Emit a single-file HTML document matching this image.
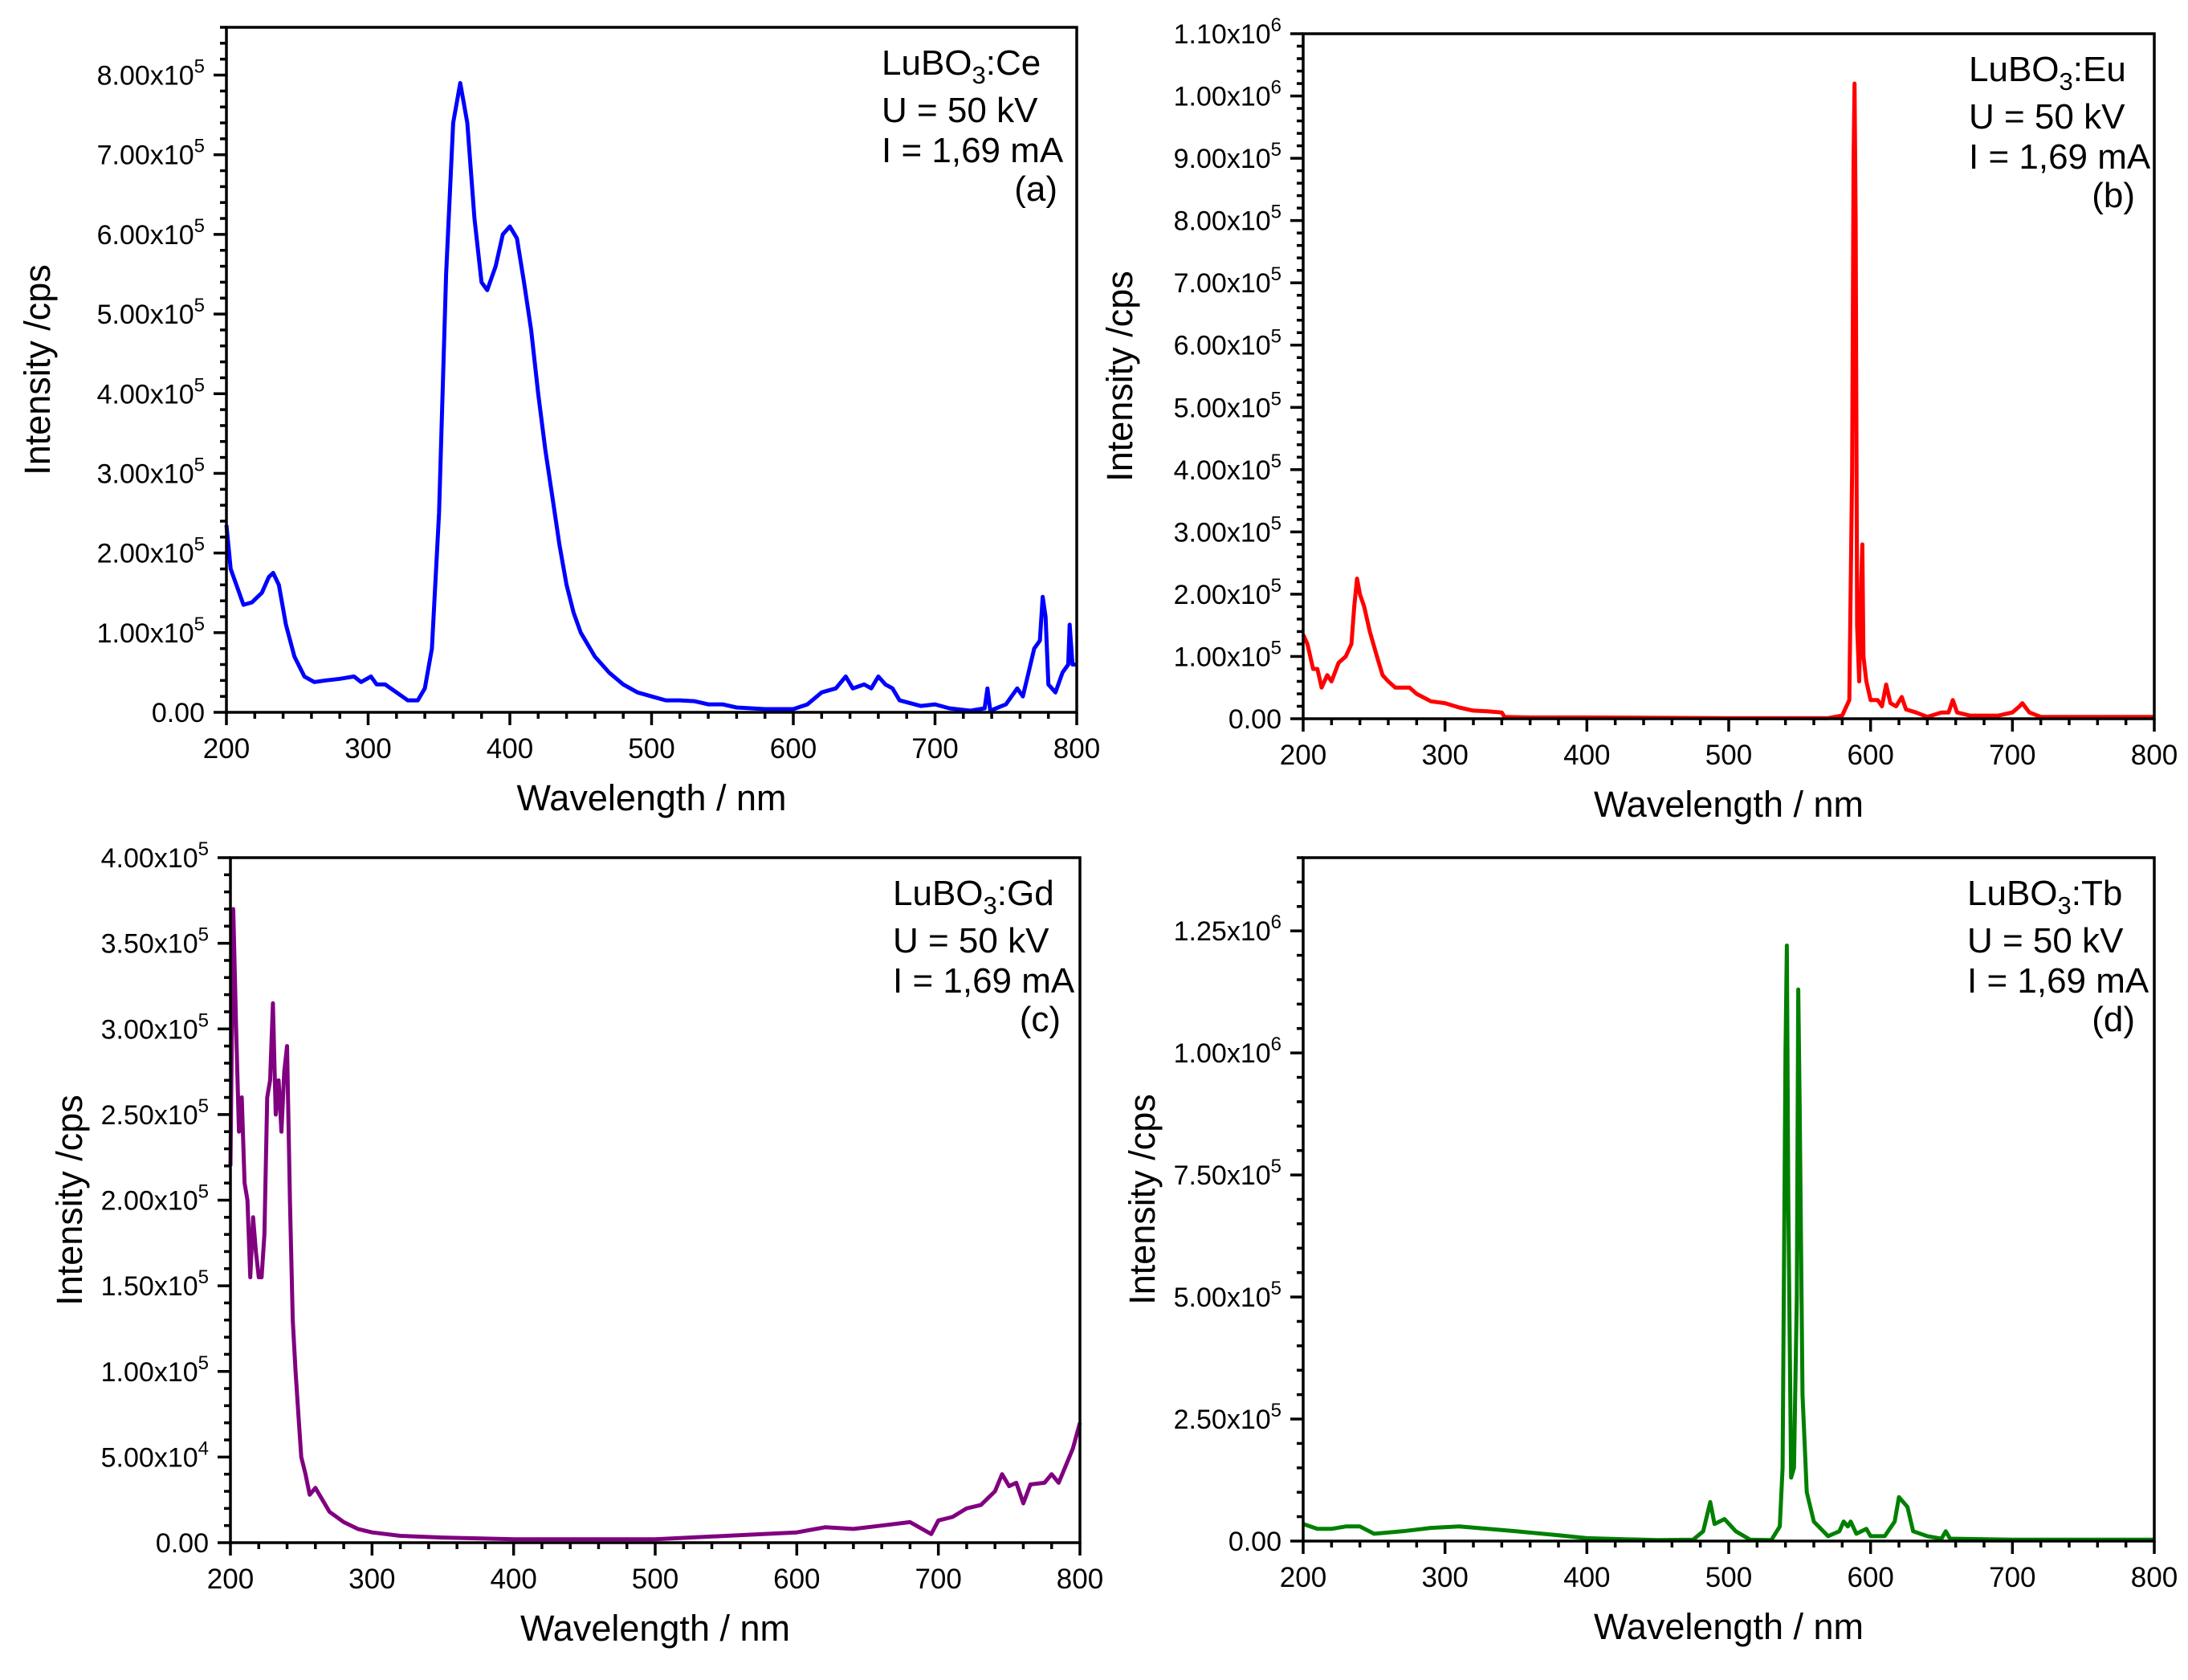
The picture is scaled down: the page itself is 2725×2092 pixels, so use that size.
<!DOCTYPE html>
<html><head><meta charset="utf-8"><style>
html,body{margin:0;padding:0;background:#fff;}
svg{display:block;font-family:"Liberation Sans",Arial,sans-serif;}
</style></head><body>
<svg id="fig" width="2725" height="2092" viewBox="0 0 2725 2092" xmlns="http://www.w3.org/2000/svg"></svg>
<script>
// ---------- data (intensity in units noted) ----------
const ceWl = [200,203,207,212,218,225,230,233,237,242,248,255,262,270,280,290,295,302,306,312,320,328,335,340,345,350,355,360,365,370,375,380,384,390,395,400,405,410,415,420,425,430,435,440,445,450,460,470,480,490,500,510,520,530,540,550,560,580,600,610,620,630,637,642,650,655,660,665,670,675,690,700,710,725,735,737,739,750,758,762,766,770,774,776,778,780,785,790,794,795,797,800];
const ceVal = [2.35,1.8,1.6,1.35,1.38,1.5,1.7,1.75,1.6,1.1,0.7,0.45,0.38,0.4,0.42,0.45,0.38,0.45,0.35,0.35,0.25,0.15,0.15,0.3,0.8,2.5,5.5,7.4,7.9,7.4,6.2,5.4,5.3,5.6,6.0,6.1,5.95,5.4,4.8,4.0,3.3,2.7,2.1,1.6,1.25,1.0,0.7,0.5,0.35,0.25,0.2,0.15,0.15,0.14,0.1,0.1,0.06,0.04,0.04,0.1,0.25,0.3,0.45,0.3,0.35,0.3,0.45,0.35,0.3,0.15,0.08,0.1,0.05,0.02,0.05,0.3,0.02,0.1,0.3,0.2,0.5,0.8,0.9,1.45,1.2,0.35,0.25,0.5,0.6,1.1,0.6,0.6]; // x1e5

const euWl = [200,203,207,210,213,217,220,225,230,234,236,238,240,243,247,252,256,260,265,270,275,280,290,300,310,320,330,340,342,360,400,500,570,580,585,587,588,588.7,589.5,590.5,592,593.5,594.2,595,597,600,605,608,611,614,618,622,625,632,640,650,655,658,661,670,690,700,705,707,712,720,800];
const euVal = [1.35,1.2,0.8,0.8,0.5,0.7,0.6,0.9,1.0,1.2,1.8,2.25,2.0,1.8,1.4,1.0,0.7,0.6,0.5,0.5,0.5,0.4,0.28,0.25,0.18,0.13,0.12,0.1,0.03,0.02,0.02,0.01,0.01,0.05,0.3,4.0,9.0,10.2,8.0,1.5,0.6,2.3,2.8,1.0,0.6,0.3,0.3,0.2,0.55,0.25,0.2,0.35,0.15,0.1,0.03,0.1,0.1,0.3,0.1,0.05,0.05,0.1,0.2,0.25,0.1,0.03,0.03]; // x1e5

const gdWl = [200,202,204,206,208,210,212,214,216,218,220,222,224,226,228,230,232,234,236,238,240,242,244,246,248,250,253,256,260,265,270,275,280,290,300,320,350,400,450,500,550,600,620,640,660,680,695,700,710,720,730,740,745,750,755,760,765,775,780,785,790,795,800];
const gdVal = [22,37,30,24,26,21,20,15.5,19,17,15.5,15.5,18,26,27,31.5,25,27,24,27.5,29,20,13,10,7.5,5,4,2.8,3.2,2.5,1.8,1.5,1.2,0.8,0.6,0.4,0.3,0.2,0.2,0.2,0.4,0.6,0.9,0.8,1.0,1.2,0.5,1.3,1.5,2,2.2,3,4,3.3,3.5,2.3,3.4,3.5,4,3.5,4.5,5.5,7]; // x1e4

const tbWl = [200,210,220,230,240,250,270,290,310,330,350,380,400,450,475,482,487,490,497,505,515,530,536,538,540,541,542,544,546,548,549,550,552,555,560,570,578,581,584,586,590,597,600,610,617,620,623,626,630,640,650,653,656,700,800];
const tbVal = [0.35,0.25,0.25,0.3,0.3,0.15,0.2,0.27,0.3,0.25,0.2,0.12,0.06,0.02,0.03,0.2,0.8,0.35,0.45,0.2,0.03,0.02,0.3,1.5,10,12.2,7,1.3,1.5,5,11.3,9,3,1.0,0.4,0.1,0.2,0.4,0.3,0.4,0.15,0.25,0.1,0.1,0.4,0.9,0.8,0.7,0.2,0.1,0.05,0.2,0.05,0.03,0.03]; // x1e5

const xTicks = [200,300,400,500,600,700,800];
const ceTicks = [0,1,2,3,4,5,6,7,8];
const ceTickLabels = ["0.00","1.00x10|5","2.00x10|5","3.00x10|5","4.00x10|5","5.00x10|5","6.00x10|5","7.00x10|5","8.00x10|5"];
const euTicks = [0,1,2,3,4,5,6,7,8,9,10,11];
const euTickLabels = ["0.00","1.00x10|5","2.00x10|5","3.00x10|5","4.00x10|5","5.00x10|5","6.00x10|5","7.00x10|5","8.00x10|5","9.00x10|5","1.00x10|6","1.10x10|6"];
const gdTicks = [0,5,10,15,20,25,30,35,40];
const gdTickLabels = ["0.00","5.00x10|4","1.00x10|5","1.50x10|5","2.00x10|5","2.50x10|5","3.00x10|5","3.50x10|5","4.00x10|5"];
const tbTicks = [0,2.5,5,7.5,10,12.5];
const tbTickLabels = ["0.00","2.50x10|5","5.00x10|5","7.50x10|5","1.00x10|6","1.25x10|6"];

const NS = "http://www.w3.org/2000/svg";
const svg = document.getElementById('fig');
function mk(tag, attrs, parent){
  const e = document.createElementNS(NS, tag);
  for (const k in attrs) e.setAttribute(k, attrs[k]);
  (parent||svg).appendChild(e);
  return e;
}

function panel(cfg){
  const g = mk('g', {});
  
  
  const {L,R,T,B,ymax,minorY} = cfg;
  const sx = v => L + (v-200)/600*(R-L);
  const sy = v => B - v/ymax*(B-T);
  let d = '';
  cfg.wl.forEach((w,i)=>{ d += (i?'L':'M') + sx(w).toFixed(1) + ' ' + sy(cfg.val[i]).toFixed(1); });
  const line = mk('path', {d:d, fill:'none', stroke:cfg.color, 'stroke-width':5, 'stroke-linejoin':'round'}, g);
  
  
  const fr = mk('rect', {x:L, y:T, width:R-L, height:B-T, fill:'none', stroke:'#000', 'stroke-width':3.5}, g);
  
  
  for (let v=200; v<=800; v+=20){
    const major = (v%100===0);
    mk('line', {x1:sx(v), x2:sx(v), y1:B, y2:B+(major?16:8), stroke:'#000','stroke-width':3.5}, g);
  }
  xTicks.forEach(v=>{
    const t = mk('text', {x:sx(v), y:B+57, 'font-size':35, 'text-anchor':'middle', fill:'#000'}, g);
    t.textContent = v;
    
    
  });
  const step = cfg.ticks[1]-cfg.ticks[0];
  for (let v=0; v<=ymax+1e-9; v+=step/minorY){
    const isMaj = Math.abs(v/step - Math.round(v/step))<1e-6;
    mk('line', {x1:L, x2:L-(isMaj?16:8), y1:sy(v), y2:sy(v), stroke:'#000','stroke-width':3.5}, g);
  }
  cfg.ticks.forEach((v,i)=>{
    const parts = cfg.labels[i].split('|');
    const t = mk('text', {x:L-27, y:sy(v)+12, 'font-size':34, 'text-anchor':'end', fill:'#000'}, g);
    
    
    if (parts.length===1){ t.textContent = parts[0]; }
    else {
      const a = mk('tspan', {}, t); a.textContent = parts[0];
      const b = mk('tspan', {dy:-15, 'font-size':24}, t); b.textContent = parts[1];
    }
  });
  const xt = mk('text', {x:(L+R)/2, y:B+122, 'font-size':45, 'text-anchor':'middle'}, g);
  xt.textContent = 'Wavelength / nm';
  
  
  const yt = mk('text', {x:0, y:0, 'font-size':45, 'text-anchor':'middle', transform:`translate(${cfg.ytx},${(T+B)/2}) rotate(-90)`}, g);
  yt.textContent = 'Intensity /cps';
  
  
  const ax = cfg.annX, ay = T;
  const l1 = mk('text', {x:ax, y:ay+59, 'font-size':44}, g);
  
  
  const s1 = mk('tspan', {}, l1); s1.textContent = 'LuBO';
  const s2 = mk('tspan', {dy:11, 'font-size':31}, l1); s2.textContent = '3';
  const s3 = mk('tspan', {dy:-11}, l1); s3.textContent = ':' + cfg.dopant;
  const l2 = mk('text', {x:ax, y:ay+118, 'font-size':44}, g); l2.textContent = 'U = 50 kV';
  
  
  const l3 = mk('text', {x:ax, y:ay+168, 'font-size':44}, g); l3.textContent = 'I = 1,69 mA';
  
  
  const l4 = mk('text', {x:R-24, y:ay+216, 'font-size':44, 'text-anchor':'end'}, g); l4.textContent = cfg.letter;
  
  
}

panel({name:'panel-a-ce', L:282, R:1341, T:34, B:887, ymax:8.6, minorY:5, wl:ceWl, val:ceVal, color:'#0000ff', ticks:ceTicks, labels:ceTickLabels, ytx:62, annX:1098, dopant:'Ce', letter:'(a)'});
panel({name:'panel-b-eu', L:1623, R:2683, T:42, B:895, ymax:11, minorY:5, wl:euWl, val:euVal, color:'#ff0000', ticks:euTicks, labels:euTickLabels, ytx:1410, annX:2452, dopant:'Eu', letter:'(b)'});
panel({name:'panel-c-gd', L:287, R:1345, T:1068, B:1921, ymax:40, minorY:5, wl:gdWl, val:gdVal, color:'#800080', ticks:gdTicks, labels:gdTickLabels, ytx:102, annX:1112, dopant:'Gd', letter:'(c)'});
panel({name:'panel-d-tb', L:1623, R:2683, T:1068, B:1919, ymax:14, minorY:5, wl:tbWl, val:tbVal, color:'#008000', ticks:tbTicks, labels:tbTickLabels, ytx:1438, annX:2450, dopant:'Tb', letter:'(d)'});
</script>
</body></html>
